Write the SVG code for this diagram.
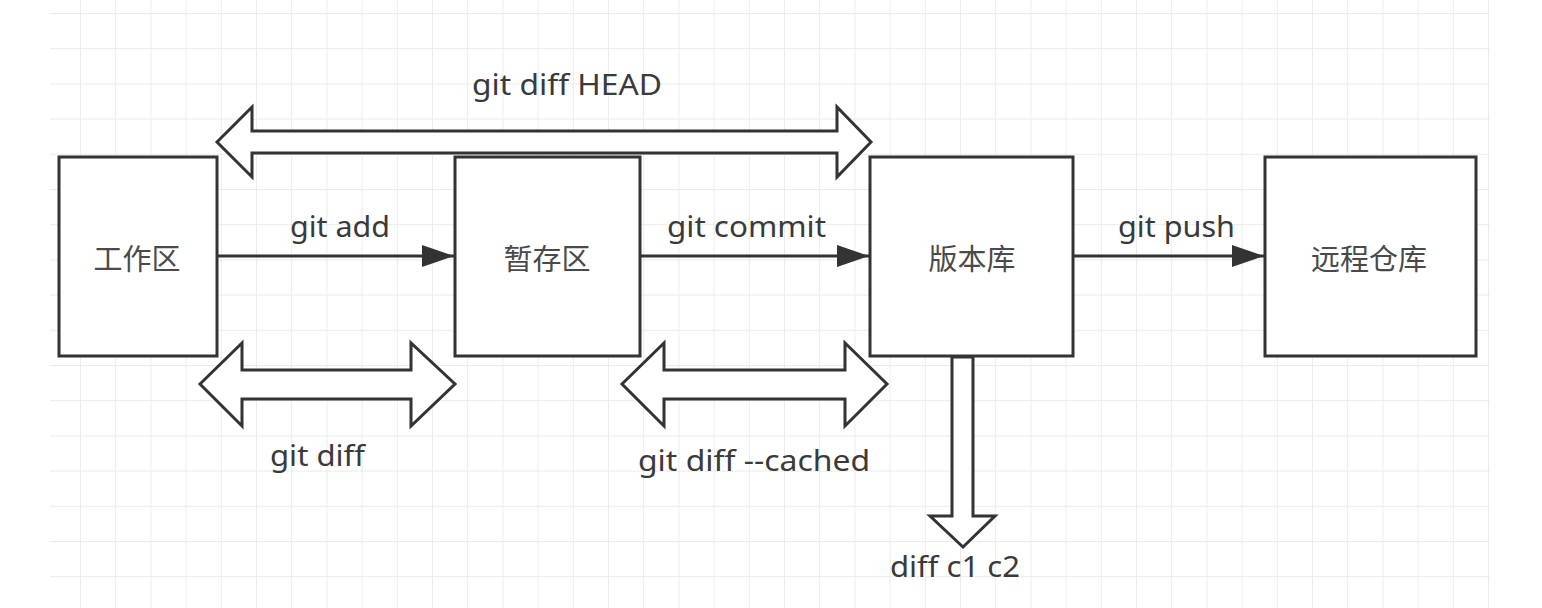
<svg xmlns="http://www.w3.org/2000/svg" width="1542" height="608" viewBox="0 0 1542 608">
  <style>
    .box { fill: #ffffff; stroke: #333333; stroke-width: 3; }
    .node-label { font-family: "Noto Sans CJK SC", "Noto Sans", sans-serif; font-size: 29px; fill: #4a4a4a; text-anchor: middle; dominant-baseline: central; }
    .edge-label { font-family: "Noto Sans", "Open Sans", sans-serif; font-size: 29px; fill: #3a3a3a; text-anchor: middle; }
    .line { stroke: #333333; stroke-width: 3; fill: none; }
    .block { fill: #ffffff; stroke: #333333; stroke-width: 3; stroke-linejoin: miter; }
  </style>
  <defs>
    <pattern id="grid" patternUnits="userSpaceOnUse" x="80" y="13" width="35.2" height="35.2">
      <path d="M0 0 H35.2 M0 0 V35.2" stroke="#ebebeb" stroke-width="2" fill="none"/>
    </pattern>
    <marker id="arrowhead" viewBox="0 0 32 22" refX="32" refY="11" markerWidth="32" markerHeight="22" markerUnits="userSpaceOnUse" orient="auto">
      <path d="M0 0 L32 11 L0 22 Z" fill="#333333"/>
    </marker>
  </defs>

  <rect x="0" y="0" width="1542" height="608" fill="#ffffff"/>
  <rect x="50" y="0" width="1440" height="608" fill="url(#grid)"/>

  <g id="connectors">
    <g id="edge-git-add">
      <line class="line" x1="217" y1="256" x2="454" y2="256" marker-end="url(#arrowhead)"/>
      <text class="edge-label" x="340" y="237" textLength="100" lengthAdjust="spacingAndGlyphs">git add</text>
    </g>
    <g id="edge-git-commit">
      <line class="line" x1="640" y1="256" x2="869" y2="256" marker-end="url(#arrowhead)"/>
      <text class="edge-label" x="746.5" y="237" textLength="159" lengthAdjust="spacingAndGlyphs">git commit</text>
    </g>
    <g id="edge-git-push">
      <line class="line" x1="1073" y1="256" x2="1264" y2="256" marker-end="url(#arrowhead)"/>
      <text class="edge-label" x="1176.5" y="237" textLength="117" lengthAdjust="spacingAndGlyphs">git push</text>
    </g>
    <g id="edge-git-diff-head">
      <polygon class="block" points="217,142 252,107 252,131 837,131 837,107 871,142 837,177 837,153 252,153 252,177"/>
      <text class="edge-label" x="567" y="95" textLength="190" lengthAdjust="spacingAndGlyphs">git diff HEAD</text>
    </g>
    <g id="edge-git-diff">
      <polygon class="block" points="200,384 242,343 242,370 411,370 411,343 455,384 411,426 411,399 242,399 242,426"/>
      <text class="edge-label" x="317.5" y="466" textLength="95" lengthAdjust="spacingAndGlyphs">git diff</text>
    </g>
    <g id="edge-git-diff-cached">
      <polygon class="block" points="622,384 664,343 664,370 845,370 845,343 887,384 845,426 845,399 664,399 664,426"/>
      <text class="edge-label" x="754" y="471" textLength="232" lengthAdjust="spacingAndGlyphs">git diff --cached</text>
    </g>
    <g id="edge-diff-c1-c2">
      <polygon class="block" points="952,357 973,357 973,516 995,516 963,547 930,516 952,516"/>
      <text class="edge-label" x="955" y="577" textLength="130" lengthAdjust="spacingAndGlyphs">diff c1 c2</text>
    </g>
  </g>

  <g id="node-workspace">
    <rect class="box" x="59" y="157" width="158" height="199"/>
    <text class="node-label" x="137" y="257">工作区</text>
  </g>
  <g id="node-staging">
    <rect class="box" x="455" y="157" width="185" height="199"/>
    <text class="node-label" x="547" y="257">暂存区</text>
  </g>
  <g id="node-repository">
    <rect class="box" x="870" y="157" width="203" height="199"/>
    <text class="node-label" x="972" y="257">版本库</text>
  </g>
  <g id="node-remote">
    <rect class="box" x="1265" y="157" width="211" height="199"/>
    <text class="node-label" x="1369" y="257">远程仓库</text>
  </g>
</svg>
